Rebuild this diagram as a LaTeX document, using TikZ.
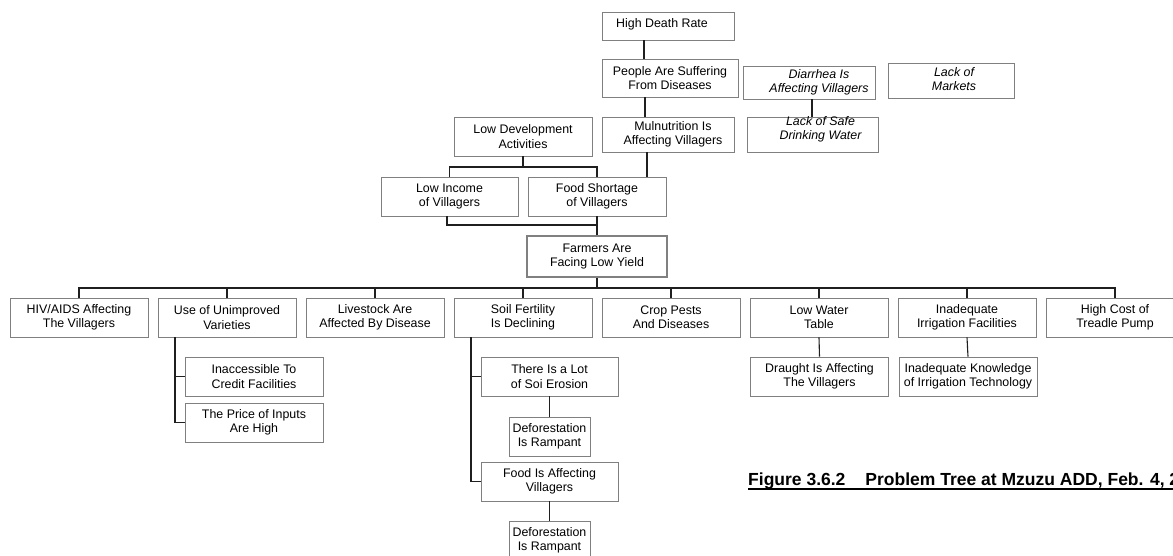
\documentclass[tikz,border=0pt]{standalone}
\usepackage{fontspec}
\setmainfont{Liberation Sans}
\definecolor{boxgray}{gray}{0.5}
\definecolor{linegray}{gray}{0.12}
\newcommand{\boxfont}{\fontsize{12.4}{14.4}\selectfont}
\begin{document}
\begin{tikzpicture}[x=1pt,y=-1pt,
  box/.style={draw=boxgray, line width=0.9pt, inner sep=0pt, align=center,
    font=\boxfont, minimum height=39pt, minimum width=138pt},
  slanted/.style={font=\boxfont\itshape},
  inner text/.style={label={[align=center, inner sep=0pt, #1]center:}},
  rootbox/.style={box, draw=boxgray, line width=2.6pt},
  wire/.style={draw=linegray, line width=1.1pt},
]
\useasboundingbox (0,0) rectangle (1173,556);

% upper part of the tree (some captions sit off-centre in their boxes)
\node[box, minimum width=132pt, minimum height=28pt,
  label={[font=\boxfont, inner sep=0pt, xshift=-6pt, yshift=2pt]center:High Death Rate}] (hdr) at (668,26) {};
\node[box, minimum width=136pt, minimum height=38pt] (pas) at (670,78) {People Are Suffering\\From Diseases};
\node[box, minimum width=132pt, minimum height=35pt,
  label={[font=\boxfont, align=center, inner sep=0pt, xshift=5pt]center:Mulnutrition Is\\Affecting Villagers}] (mal) at (668,134.5) {};
\node[box, minimum width=132pt, minimum height=33pt,
  label={[slanted, align=center, inner sep=0pt, xshift=10pt]center:Diarrhea Is\\Affecting Villagers}] (dia) at (809,82.5) {};
\node[box, minimum width=131pt, minimum height=35pt,
  label={[slanted, align=center, inner sep=0pt, xshift=8pt, yshift=5pt]center:Lack of Safe\\Drinking Water}] (lsw) at (812.5,134.5) {};
\node[box, minimum width=126pt, minimum height=35pt,
  label={[slanted, align=center, inner sep=0pt, xshift=3pt, yshift=1.5pt]center:Lack of\\Markets}] (lom) at (951,80.5) {};
\node[box] (ldv) at (523,136.5) {Low Development\\Activities};
\node[box, minimum width=137pt] (lin) at (449.5,196.5) {Low Income\\of Villagers};
\node[box] (fsh) at (597,196.5) {Food Shortage\\of Villagers};

% core problem
\node[rootbox, minimum width=140pt, minimum height=41pt] (frm) at (597,256.5) {Farmers Are\\Facing Low Yield};

% direct causes
\node[box] (hiv)  at (79,317.5)   {HIV/AIDS Affecting\\The Villagers};
\node[box] (use)  at (227,317.5)  {Use of Unimproved\\Varieties};
\node[box] (liv)  at (375,317.5)  {Livestock Are\\Affected By Disease};
\node[box] (soil) at (523,317.5)  {Soil Fertility\\Is Declining};
\node[box] (crop) at (671,317.5)  {Crop Pests\\And Diseases};
\node[box] (lwt)  at (819,317.5)  {Low Water\\Table};
\node[box] (inad) at (967,317.5)  {Inadequate\\Irrigation Facilities};
\node[box] (tre)  at (1115,317.5) {High Cost of\\Treadle Pump};

% deeper causes
\node[box] (inc) at (254,376.5) {Inaccessible To\\Credit Facilities};
\node[box] (pri) at (254,422.5) {The Price of Inputs\\Are High};
\node[box, minimum width=137pt] (lot) at (549.5,376.5) {There Is a Lot\\of Soi Erosion};
\node[box, minimum width=81pt] (df1) at (549.5,436.5) {Deforestation\\Is Rampant};
\node[box, minimum width=137pt] (fia) at (549.5,481.5) {Food Is Affecting\\Villagers};
\node[box, minimum width=81pt] (df2) at (549.5,540.5) {Deforestation\\Is Rampant};
\node[box] (dra) at (819.5,376.5) {Draught Is Affecting\\The Villagers};
\node[box] (ink) at (968,376.5) {Inadequate Knowledge\\of Irrigation Technology};

% helper positions for the connector runs
\coordinate (xa) at (644,0);
\coordinate (xb) at (645,0);
\coordinate (xc) at (647,0);
\coordinate (xd) at (812,0);
\coordinate (xl) at (447,0);
\coordinate (xu) at (175,0);
\coordinate (xs) at (471,0);
\coordinate (ya) at (0,167);
\coordinate (yb) at (0,225);
\coordinate (yc) at (0,288);

% connectors
\draw[wire] (hdr.south -| xa) -- (pas.north -| xa);
\draw[wire] (pas.south -| xb) -- (mal.north -| xb);
\draw[wire] (mal.south -| xc) -- (fsh.north -| xc);
\draw[wire] (dia.south -| xd) -- (lsw.north -| xd);
\draw[wire] (ldv.south) -- (ldv.south |- ya);
\draw[wire] (lin.north) |- (ldv.south |- ya) -| (fsh.north);
\draw[wire] (lin.south -| xl) |- (frm.north |- yb);
\draw[wire] (fsh.south) -- (frm.north);
\draw[wire] (frm.south) -- (frm.south |- yc);
\draw[wire] (hiv.north) |- (tre.north |- yc) -- (tre.north);
\foreach \n in {use,liv,soil,crop,lwt,inad}
  \draw[wire] (\n.north) -- (\n.north |- yc);
\draw[wire] (use.south -| xu) |- (pri.west);
\draw[wire] (inc.west -| xu) -- (inc.west);
\draw[wire] (soil.south -| xs) |- (fia.west);
\draw[wire] (lot.west -| xs) -- (lot.west);
\draw[wire] (lot.south) -- (df1.north);
\draw[wire] (fia.south) -- (df2.north);
\draw[wire] (lwt.south) -- (dra.north);
\draw[wire] (inad.south) -- (ink.north);

% caption
\node[anchor=base west, inner sep=0pt, font=\bfseries\fontsize{17.5}{19}\selectfont] (cap) at (748,485)
  {Figure 3.6.2\hspace{20pt}Problem Tree at Mzuzu ADD, Feb. 4, 2};
\draw[line width=1.6pt] ([yshift=-4pt]cap.base west) -- ([yshift=-4pt]cap.base east);
\end{tikzpicture}
\end{document}
